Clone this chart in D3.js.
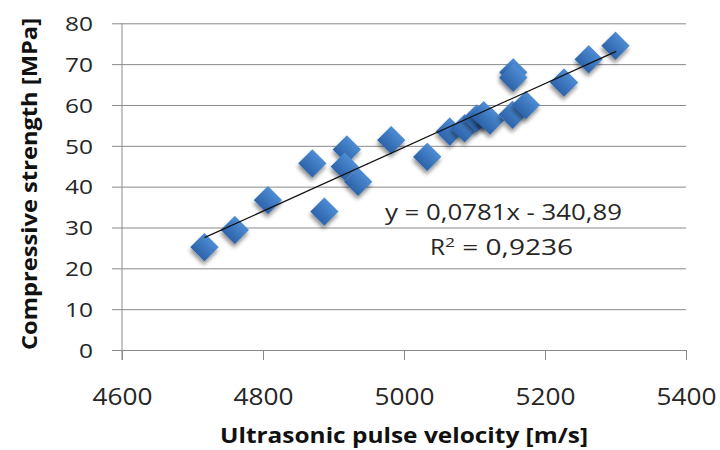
<!DOCTYPE html>
<html>
<head>
<meta charset="utf-8">
<script src="https://cdn.jsdelivr.net/npm/d3@7"></script>
<style>
  body { margin: 0; background: #fff; }
  text { font-family: "Open Sans", Lato, sans-serif; }
</style>
</head>
<body>
<script>
const width = 720;
const height = 450;

// measured points: velocity [m/s] and strength [MPa]
const velocity = [4717, 4760, 4807, 4870, 4887, 4919, 4916, 4935, 4982, 5033,
                  5065, 5086, 5103, 5113, 5122, 5154, 5173, 5155, 5155, 5227, 5262, 5300];
const strength = [25.2, 29.4, 36.7, 45.7, 33.9, 49.1, 44.9, 41.2, 51.4, 47.3,
                  53.5, 54.3, 56.7, 57.5, 56.2, 57.6, 60.0, 68.0, 66.7, 65.5, 71.2, 74.5];

const xTicks = [4600, 4800, 5000, 5200, 5400];
const yTicks = [0, 10, 20, 30, 40, 50, 60, 70, 80];

// linear trend line
const slope = 0.0781;
const intercept = -340.89;
const rSquared = "0,9236";
const trendRange = [4717, 5301];

const margin = { top: 23.3, right: 34, bottom: 100, left: 122 };

const x = d3.scaleLinear().domain([4600, 5400]).range([margin.left, width - margin.right]);
const y = d3.scaleLinear().domain([0, 80]).range([height - margin.bottom, margin.top]);

const svg = d3.select("body").append("svg")
    .attr("width", width)
    .attr("height", height);

const defs = svg.append("defs");
const grad = defs.append("linearGradient")
    .attr("id", "mk")
    .attr("x1", 0).attr("y1", 0).attr("x2", 0).attr("y2", 1);
grad.append("stop").attr("offset", "0%").attr("stop-color", "#4d8cd3");
grad.append("stop").attr("offset", "100%").attr("stop-color", "#2d63aa");

const shadow = defs.append("filter").attr("id", "sh")
    .attr("x", "-50%").attr("y", "-50%").attr("width", "200%").attr("height", "200%");
shadow.append("feGaussianBlur").attr("in", "SourceAlpha").attr("stdDeviation", 2);
shadow.append("feOffset").attr("dx", 2).attr("dy", 3).attr("result", "off");
shadow.append("feComponentTransfer").append("feFuncA").attr("type", "linear").attr("slope", 0.45);
const merge = shadow.append("feMerge");
merge.append("feMergeNode");
merge.append("feMergeNode").attr("in", "SourceGraphic");

const gridColor = "#8a8a8a";
const textColor = "#262626";

// the original text is wider than any installed font, so stretch to measured widths
function stretch(sel, w) {
    sel.attr("textLength", w).attr("lengthAdjust", "spacingAndGlyphs");
}

// horizontal grid lines with left tick stubs
svg.append("g")
    .attr("transform", `translate(${margin.left},0)`)
    .call(d3.axisLeft(y).tickValues(yTicks)
        .tickSize(-(width - margin.right - margin.left)).tickPadding(29).tickFormat(d3.format("d")))
    .call(g => g.select(".domain").remove())
    .call(g => g.selectAll(".tick line").attr("stroke", gridColor).attr("x1", -10))
    .call(g => g.selectAll(".tick text")
        .attr("fill", textColor).style("font-size", "20px").attr("dy", "0.36em")
        .each(function (d) { stretch(d3.select(this), String(d).length * 14); }));

// x axis
svg.append("g")
    .attr("transform", `translate(0,${y(0)})`)
    .call(d3.axisBottom(x).tickValues(xTicks).tickSize(10).tickFormat(d3.format("d")))
    .call(g => g.select(".domain").attr("stroke", gridColor))
    .call(g => g.selectAll(".tick line").attr("stroke", gridColor))
    .call(g => g.selectAll(".tick text")
        .attr("fill", textColor).style("font-size", "24px")
        .attr("y", 55).attr("dy", 0)
        .call(s => stretch(s, 60)));

// y axis line
svg.append("line")
    .attr("x1", x(4600)).attr("x2", x(4600))
    .attr("y1", y(80)).attr("y2", y(0) + 10)
    .attr("stroke", gridColor);

// points
const pts = velocity.map((v, i) => ({ v, s: strength[i] }));
svg.append("g")
    .selectAll("path")
    .data(pts)
    .join("path")
    .attr("d", d3.symbol(d3.symbolSquare, 400))
    .attr("transform", d => `translate(${x(d.v)},${y(d.s)}) rotate(45)`)
    .attr("fill", "url(#mk)")
    .attr("filter", "url(#sh)");

// trend line
svg.append("line")
    .attr("x1", x(trendRange[0])).attr("y1", y(slope * trendRange[0] + intercept))
    .attr("x2", x(trendRange[1])).attr("y2", y(slope * trendRange[1] + intercept))
    .attr("stroke", "#111")
    .attr("stroke-width", 1.2);

// equation
svg.append("text")
    .attr("x", 385).attr("y", 220)
    .attr("fill", textColor)
    .style("font-size", "21px")
    .text(`y = ${String(slope).replace(".", ",")}x - ${String(-intercept).replace(".", ",")}`)
    .call(s => stretch(s, 237));

const r2 = svg.append("text")
    .attr("x", 430).attr("y", 255)
    .attr("fill", textColor)
    .style("font-size", "21px");
r2.append("tspan").text("R").call(s => stretch(s, 15));
r2.append("tspan").attr("dy", -8).style("font-size", "13px").text("2").call(s => stretch(s, 10));
r2.append("tspan").attr("dy", 8).text(` = ${rSquared}`).call(s => stretch(s, 118));

// axis titles
svg.append("text")
    .attr("x", 220)
    .attr("y", 443)
    .attr("fill", "#111")
    .style("font-size", "21px")
    .style("font-weight", "bold")
    .text("Ultrasonic pulse velocity [m/s]")
    .call(s => stretch(s, 368));

svg.append("text")
    .attr("transform", "translate(37,350) rotate(-90)")
    .attr("fill", "#111")
    .style("font-size", "21px")
    .style("font-weight", "bold")
    .text("Compressive strength [MPa]")
    .call(s => stretch(s, 332));
</script>
</body>
</html>
